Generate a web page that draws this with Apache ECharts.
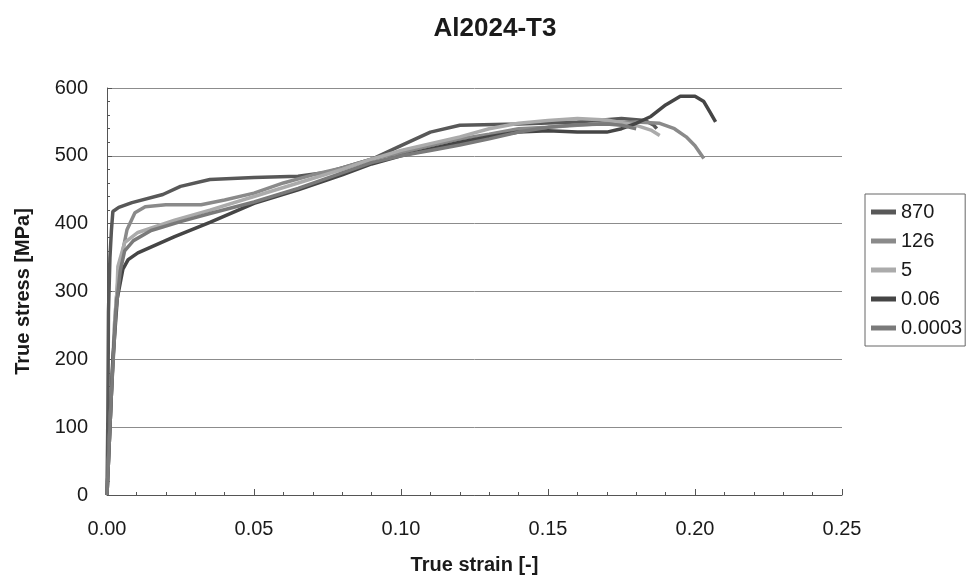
<!DOCTYPE html>
<html>
<head>
<meta charset="utf-8">
<script src="https://cdn.jsdelivr.net/npm/echarts@6/dist/echarts.min.js"></script>
<style>
html,body{margin:0;padding:0;background:#fff;}
#chart{width:971px;height:580px;}
</style>
</head>
<body>
<div id="chart"></div>
<script>
// ---- data (true strain [-], true stress [MPa]) ----
const seriesNames = ['870', '126', '5', '0.06', '0.0003'];

const strain870 = [0, 0.0003, 0.0005, 0.001, 0.0015, 0.002, 0.004, 0.0085, 0.019, 0.025, 0.035, 0.05, 0.065, 0.075, 0.09, 0.10, 0.11, 0.12, 0.14, 0.16, 0.175, 0.183, 0.186, 0.187];
const stress870 = [0, 120, 270, 350, 390, 418, 424, 431, 443, 455, 465, 468, 470, 476, 495, 515, 535, 545, 547, 550, 555, 552, 545, 540];

const strain126 = [0, 0.0015, 0.003, 0.004, 0.005, 0.0068, 0.0095, 0.013, 0.02, 0.032, 0.04, 0.05, 0.06, 0.07, 0.08, 0.09, 0.10, 0.11, 0.12, 0.13, 0.14, 0.15, 0.16, 0.17, 0.18, 0.188, 0.193, 0.197, 0.20, 0.203];
const stress126 = [0, 150, 280, 330, 352, 391, 416, 425, 428, 428, 435, 445, 460, 472, 482, 495, 505, 515, 525, 532, 540, 542, 545, 548, 550, 548, 540, 528, 515, 496];

const strain5 = [0, 0.0012, 0.0025, 0.0034, 0.0037, 0.006, 0.0105, 0.023, 0.035, 0.05, 0.065, 0.08, 0.09, 0.10, 0.11, 0.12, 0.13, 0.14, 0.15, 0.16, 0.17, 0.18, 0.185, 0.188];
const stress5 = [0, 120, 250, 300, 337, 372, 387, 405, 420, 440, 460, 480, 495, 508, 518, 528, 540, 548, 552, 555, 553, 545, 538, 530];

const strain006 = [0, 0.001, 0.002, 0.0035, 0.0054, 0.0072, 0.0105, 0.023, 0.035, 0.05, 0.065, 0.08, 0.09, 0.10, 0.11, 0.12, 0.13, 0.14, 0.15, 0.16, 0.17, 0.175, 0.18, 0.185, 0.19, 0.195, 0.20, 0.203, 0.205, 0.207];
const stress006 = [0, 100, 200, 290, 333, 347, 357, 381, 402, 430, 450, 472, 488, 500, 510, 520, 528, 535, 537, 535, 535, 540, 548, 558, 575, 588, 588, 580, 565, 550];

const strain00003 = [0, 0.0015, 0.003, 0.0045, 0.006, 0.009, 0.015, 0.025, 0.035, 0.05, 0.065, 0.08, 0.09, 0.10, 0.11, 0.12, 0.13, 0.14, 0.15, 0.16, 0.17, 0.175, 0.18];
const stress00003 = [0, 150, 270, 330, 360, 375, 390, 403, 415, 432, 452, 475, 490, 500, 508, 516, 525, 535, 542, 546, 547, 545, 540];

const xTicks = [0, 0.05, 0.10, 0.15, 0.20, 0.25];
const yTicks = [0, 100, 200, 300, 400, 500, 600];

const colors = ['#585858', '#8a8a8a', '#ababab', '#454545', '#7a7a7a'];

function zip(xs, ys) { return xs.map((x, i) => [x, ys[i]]); }
const dataSets = [
  zip(strain870, stress870),
  zip(strain126, stress126),
  zip(strain5, stress5),
  zip(strain006, stress006),
  zip(strain00003, stress00003)
];

const chart = echarts.init(document.getElementById('chart'));
const FONT = 'Liberation Sans, Arial, sans-serif';

chart.setOption({
  backgroundColor: '#ffffff',
  animation: false,
  title: {
    text: 'Al2024-T3',
    left: 490, top: 11, textAlign: 'center',
    textStyle: { fontFamily: FONT, fontSize: 26, fontWeight: 'bold', color: '#1a1a1a' }
  },
  legend: {
    orient: 'vertical',
    left: 865, top: 194,
    padding: [8, 3, 8, 6],
    itemGap: 9,
    itemWidth: 25, itemHeight: 5,
    icon: 'rect',
    borderColor: '#666', borderWidth: 1,
    textStyle: { fontFamily: FONT, fontSize: 20, color: '#1a1a1a' },
    data: seriesNames
  },
  grid: { left: 107, right: 129, top: 88, bottom: 84 },
  xAxis: {
    type: 'value', min: 0, max: 0.25, interval: 0.05,
    name: 'True strain [-]', nameLocation: 'middle', nameGap: 60,
    nameTextStyle: { fontFamily: FONT, fontSize: 20, fontWeight: 'bold', color: '#1a1a1a' },
    axisLine: { lineStyle: { color: '#555', width: 1 } },
    axisTick: { inside: true, length: 6, lineStyle: { color: '#555' } },
    minorTick: { show: true, splitNumber: 5, length: 3, lineStyle: { color: '#555' } },
    splitLine: { show: false },
    axisLabel: {
      margin: 24, fontFamily: FONT, fontSize: 20, color: '#1a1a1a',
      formatter: v => v.toFixed(2)
    }
  },
  yAxis: {
    type: 'value', min: 0, max: 600, interval: 100,
    name: 'True stress [MPa]', nameLocation: 'middle', nameGap: 74, nameRotate: 90,
    nameTextStyle: { fontFamily: FONT, fontSize: 20, fontWeight: 'bold', color: '#1a1a1a' },
    axisLine: { show: true, lineStyle: { color: '#555', width: 1 } },
    axisTick: { show: true, inside: true, length: 5, lineStyle: { color: '#555' } },
    minorTick: { show: true, splitNumber: 5, length: 3, lineStyle: { color: '#555' } },
    splitLine: { show: true, lineStyle: { color: '#8c8c8c', width: 1 } },
    axisLabel: { margin: 19, fontFamily: FONT, fontSize: 20, color: '#1a1a1a' }
  },
  series: seriesNames.map((name, i) => ({
    name: name,
    type: 'line',
    data: dataSets[i],
    showSymbol: false,
    symbol: 'none',
    color: colors[i],
    lineStyle: { width: 3.5, color: colors[i] },
    z: 2 + i
  }))
});
</script>
</body>
</html>
